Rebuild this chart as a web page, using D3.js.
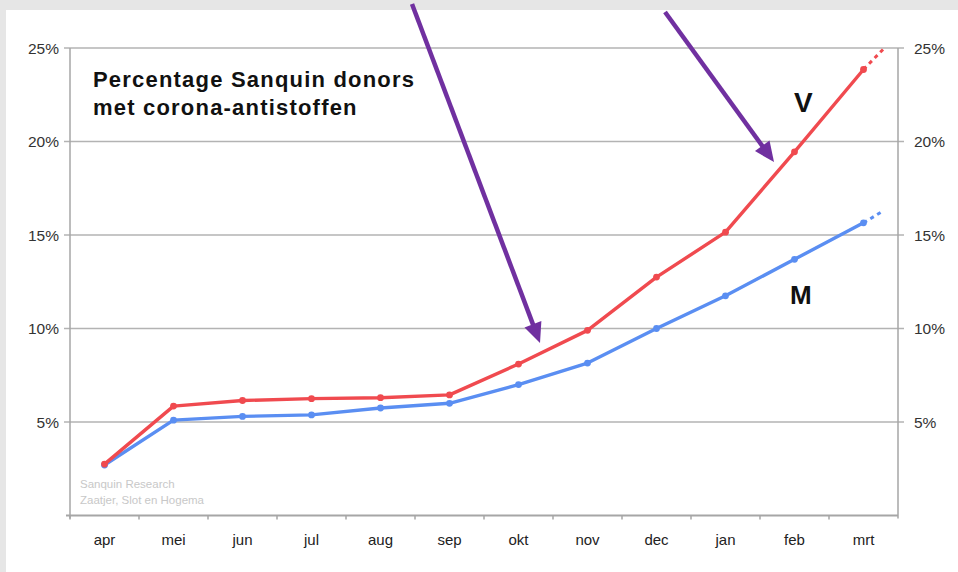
<!DOCTYPE html>
<html><head><meta charset="utf-8">
<script src="https://cdn.jsdelivr.net/npm/d3@7"></script>
<style>
html,body{margin:0;padding:0;background:#e6e6e6;}
svg{display:block;font-family:Arial,"Liberation Sans",sans-serif;}
</style></head>
<body>
<svg id="c" width="958" height="572"></svg>
<script>
const months = ["apr","mei","jun","jul","aug","sep","okt","nov","dec","jan","feb","mrt"];
const vrouwen = [2.75,5.85,6.15,6.25,6.3,6.45,8.1,9.9,12.75,15.15,19.45,23.85];
const mannen  = [2.7,5.1,5.3,5.38,5.75,6.0,7.0,8.15,10.0,11.75,13.7,15.65];
const vExt = 24.95;
const mExt = 16.3;
const yTicks = [5,10,15,20,25];
const titleLines = ["Percentage Sanquin donors","met corona-antistoffen"];
const sourceLines = ["Sanquin Research","Zaatjer, Slot en Hogema"];

const svg = d3.select("#c");
svg.append("rect").attr("x",6).attr("y",10).attr("width",952).attr("height",562).attr("fill","#fff");

const L=70,R=898,T=48,B=515.5;
const x = d3.scaleBand().domain(months).range([L,R]).paddingInner(0).paddingOuter(0);
const y = d3.scaleLinear().domain([0,25]).range([B,T]);
const cx = m => x(m)+x.bandwidth()/2;

// gridlines
svg.append("g").selectAll("line").data(yTicks).join("line")
  .attr("x1",L-6).attr("x2",R+6).attr("y1",d=>y(d)).attr("y2",d=>y(d))
  .attr("stroke","#b3b3b3").attr("stroke-width",1.5);

// axes lines
svg.append("line").attr("x1",L).attr("x2",L).attr("y1",T).attr("y2",B+3).attr("stroke","#a6a6a6").attr("stroke-width",1.5);
svg.append("line").attr("x1",R).attr("x2",R).attr("y1",T).attr("y2",B+3).attr("stroke","#a6a6a6").attr("stroke-width",1.5);
svg.append("line").attr("x1",L-4).attr("x2",R).attr("y1",B).attr("y2",B).attr("stroke","#a6a6a6").attr("stroke-width",2);

// x ticks
svg.append("g").selectAll("line").data(months).join("line")
  .attr("x1",d=>x(d)).attr("x2",d=>x(d)).attr("y1",B).attr("y2",B+4)
  .attr("stroke","#a6a6a6").attr("stroke-width",1.5);

// y labels
svg.append("g").selectAll("text").data(yTicks).join("text")
  .attr("x",L-11).attr("y",d=>y(d)+5.5).attr("text-anchor","end")
  .attr("font-size",15.5).attr("fill","#333").text(d=>d+"%");
svg.append("g").selectAll("text").data(yTicks).join("text")
  .attr("x",R+16).attr("y",d=>y(d)+5.5).attr("text-anchor","start")
  .attr("font-size",15.5).attr("fill","#333").text(d=>d+"%");

// x labels
svg.append("g").selectAll("text").data(months).join("text")
  .attr("x",d=>cx(d)).attr("y",545).attr("text-anchor","middle")
  .attr("font-size",15).attr("fill","#222").text(d=>d);

// source
svg.append("g").selectAll("text").data(sourceLines).join("text")
  .attr("x",80).attr("y",(d,i)=>488+i*16).attr("font-size",11.5).attr("fill","#c8c8c8").text(d=>d);

// title
svg.append("g").selectAll("text").data(titleLines).join("text")
  .attr("x",93).attr("y",(d,i)=>87+i*28).attr("font-size",22).attr("letter-spacing",1.2)
  .attr("font-weight","bold").attr("fill","#111").text(d=>d);

const line = d3.line().x((d,i)=>cx(months[i])).y(d=>y(d));
const lastX = cx(months[11]);

function series(vals, ext, color){
  const g = svg.append("g");
  g.append("path").datum(vals).attr("d",line).attr("fill","none")
    .attr("stroke",color).attr("stroke-width",3.4).attr("stroke-linejoin","round").attr("stroke-linecap","round");
  g.append("line").attr("x1",lastX).attr("y1",y(vals[11])).attr("x2",lastX+20).attr("y2",y(ext))
    .attr("stroke",color).attr("stroke-width",3).attr("stroke-dasharray","4,4");
  g.selectAll("circle").data(vals).join("circle")
    .attr("cx",(d,i)=>cx(months[i])).attr("cy",d=>y(d)).attr("r",3.4).attr("fill",color);
}
series(mannen, mExt, "#5a8ef2");
series(vrouwen, vExt, "#f04a4f");

// V and M labels
svg.append("text").attr("x",794).attr("y",112).attr("font-size",28).attr("font-weight","bold").attr("fill","#111").text("V");
svg.append("text").attr("x",790).attr("y",304).attr("font-size",26).attr("font-weight","bold").attr("fill","#111").text("M");

// arrows
const purple = "#7030a0";
function arrow(x1,y1,x2,y2){
  const ang = Math.atan2(y2-y1,x2-x1);
  const hl=20, hw=9;
  const bx = x2 - hl*Math.cos(ang), by = y2 - hl*Math.sin(ang);
  svg.append("line").attr("x1",x1).attr("y1",y1).attr("x2",bx+2*Math.cos(ang)).attr("y2",by+2*Math.sin(ang))
    .attr("stroke",purple).attr("stroke-width",4.5);
  const px = -Math.sin(ang)*hw, py = Math.cos(ang)*hw;
  svg.append("path").attr("d",`M${x2},${y2}L${bx+px},${by+py}L${bx-px},${by-py}Z`).attr("fill",purple);
}
arrow(412,4,540,343);
arrow(665,12,774,162);
</script>
</body></html>
